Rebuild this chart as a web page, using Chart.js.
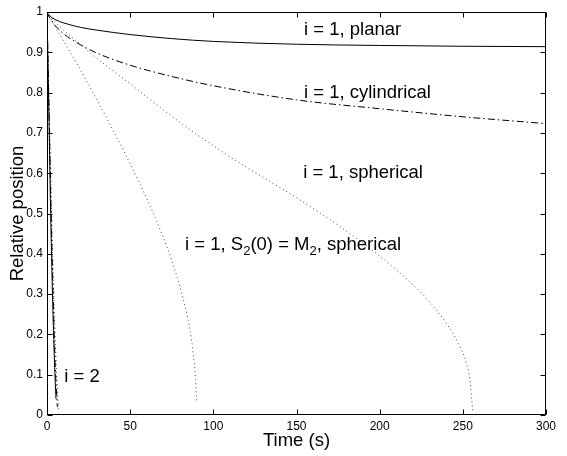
<!DOCTYPE html>
<html><head><meta charset="utf-8">
<script src="https://cdn.jsdelivr.net/npm/chart.js@4.4.1/dist/chart.umd.min.js"></script>
<style>html,body{margin:0;padding:0;background:#fff;}#wrap{width:567px;height:456px;}</style>
</head><body><div id="wrap"><canvas id="c" width="567" height="456"></canvas></div>
<script>
// ---- data ----
const xTicks = [0, 50, 100, 150, 200, 250, 300];
const xTickLabels = ['0', '50', '100', '150', '200', '250', '300'];
const yTicks = [0, 0.1, 0.2, 0.3, 0.4, 0.5, 0.6, 0.7, 0.8, 0.9, 1];
const yTickLabels = ['0', '0.1', '0.2', '0.3', '0.4', '0.5', '0.6', '0.7', '0.8', '0.9', '1'];

const planarT = [0, 1, 2, 5, 10, 20, 30, 50, 75, 100, 150, 200, 250, 300];
const planarV = [1, 0.993, 0.989, 0.981, 0.973, 0.962, 0.955, 0.944, 0.934, 0.927, 0.920, 0.917, 0.915, 0.914];

const cylT = [0, 1, 2, 5, 10, 20, 30, 50, 75, 100, 150, 200, 250, 300];
const cylV = [1, 0.99, 0.983, 0.966, 0.946, 0.919, 0.898, 0.868, 0.84, 0.817, 0.782, 0.76, 0.74, 0.723];

const sphT = [0, 2, 5, 10, 20, 30, 40, 53, 70, 87, 116, 152, 176, 192, 210, 228, 240, 247, 252, 254.5, 255.5, 256];
const sphV = [1, 0.99, 0.975, 0.955, 0.92, 0.885, 0.853, 0.812, 0.757, 0.705, 0.625, 0.534, 0.468, 0.42, 0.36, 0.29, 0.228, 0.18, 0.13, 0.08, 0.03, 0.008];

const sphM2T = [0, 5, 10, 20, 29, 39, 47, 56, 65, 72, 78, 83, 86, 88, 89.3, 90];
const sphM2V = [1, 0.963, 0.928, 0.857, 0.79, 0.712, 0.648, 0.572, 0.49, 0.418, 0.345, 0.27, 0.21, 0.15, 0.09, 0.03];

const i2PlanarT = [0, 1, 2.2, 3.3, 4.5, 5.4];
const i2PlanarV = [1, 0.78, 0.5, 0.3, 0.13, 0.04];
const i2CylT = [0, 1, 2.4, 3.6, 4.9, 6.2];
const i2CylV = [1, 0.8, 0.52, 0.31, 0.13, 0.02];
const i2SphT = [0, 1.1, 2.6, 3.9, 5.4, 7];
const i2SphV = [1, 0.8, 0.53, 0.32, 0.14, 0.01];

const labelTexts = [
  [{t: 'i = 1, planar'}],
  [{t: 'i = 1, cylindrical'}],
  [{t: 'i = 1, spherical'}],
  [{t: 'i = 1, S'}, {t: '2', sub: true}, {t: '(0) = M'}, {t: '2', sub: true}, {t: ', spherical'}],
  [{t: 'i = 2'}]
];
const labelX = [154.5, 154.5, 154, 83, 10.4];
const labelY = [0.955, 0.80, 0.60, 0.422, 0.095];

// ---- chart ----
const FONT = "'Liberation Sans', Arial, Helvetica, sans-serif";
const pts = (t, v) => t.map((x, i) => ({x: x, y: v[i]}));
const solid = [], dashdot = [7, 3, 1.5, 3], dotted = [1, 3];
function ds(t, v, dash, color) {
  return {data: pts(t, v), showLine: true, borderColor: color, borderWidth: 1, borderDash: dash,
          pointRadius: 0, fill: false, tension: 0.3, cubicInterpolationMode: 'monotone'};
}

const framePlugin = {
  id: 'frame',
  afterDatasetsDraw(chart) {
    const {ctx, chartArea: a, scales: {x, y}} = chart;
    ctx.save();
    ctx.strokeStyle = '#000';
    ctx.lineWidth = 1;
    const L = Math.round(a.left) + 0.5, R = Math.round(a.right) - 0.5;
    const T = Math.round(a.top) + 0.5, B = Math.round(a.bottom) - 0.5;
    ctx.strokeRect(L, T, R - L, B - T);
    ctx.beginPath();
    const tl = 5;
    xTicks.forEach(v => {
      const px = Math.round(x.getPixelForValue(v)) + 0.5;
      ctx.moveTo(px, B); ctx.lineTo(px, B - tl);
      ctx.moveTo(px, T); ctx.lineTo(px, T + tl);
    });
    yTicks.forEach(v => {
      const py = Math.round(y.getPixelForValue(v)) + 0.5;
      ctx.moveTo(L, py); ctx.lineTo(L + tl, py);
      ctx.moveTo(R, py); ctx.lineTo(R - tl, py);
    });
    ctx.stroke();

    ctx.fillStyle = '#000';
    ctx.textBaseline = 'middle';
    ctx.textAlign = 'left';
    const fs = 18.5;
    labelTexts.forEach((segs, k) => {
      let px = x.getPixelForValue(labelX[k]);
      const py = y.getPixelForValue(labelY[k]);
      segs.forEach(s => {
        if (s.sub) {
          ctx.font = Math.round(fs * 0.72) + 'px ' + FONT;
          ctx.fillText(s.t, px, py + 6);
        } else {
          ctx.font = fs + 'px ' + FONT;
          ctx.fillText(s.t, px, py);
        }
        px += ctx.measureText(s.t).width;
      });
    });
    ctx.restore();
  }
};

new Chart(document.getElementById('c'), {
  type: 'scatter',
  data: {
    datasets: [
      ds(planarT, planarV, solid, '#000'),
      ds(cylT, cylV, dashdot, '#000'),
      ds(sphT, sphV, dotted, '#444'),
      ds(sphM2T, sphM2V, dotted, '#444'),
      ds(i2PlanarT, i2PlanarV, solid, '#000'),
      ds(i2CylT, i2CylV, dashdot, '#000'),
      ds(i2SphT, i2SphV, dotted, '#444')
    ]
  },
  options: {
    responsive: false,
    devicePixelRatio: 1,
    animation: false,
    layout: {padding: {left: 0, top: 12, right: 21, bottom: 0}},
    plugins: {legend: {display: false}, tooltip: {enabled: false}},
    scales: {
      x: {
        type: 'linear', min: 0, max: 300,
        afterBuildTicks: s => { s.ticks = xTicks.map(v => ({value: v})); },
        afterFit: s => { s.height = 41; },
        grid: {display: false, drawTicks: false},
        border: {display: false},
        ticks: {padding: 4, color: '#000', font: {family: FONT, size: 12},
                maxRotation: 0, autoSkip: false,
                callback: (v, i) => xTickLabels[i]},
        title: {display: true, text: 'Time (s)', color: '#000',
                font: {family: FONT, size: 18.5}, padding: {top: 0, bottom: 4}}
      },
      y: {
        type: 'linear', min: 0, max: 1,
        afterBuildTicks: s => { s.ticks = yTicks.map(v => ({value: v})); },
        afterFit: s => { s.width = 47; },
        grid: {display: false, drawTicks: false},
        border: {display: false},
        ticks: {padding: 4, color: '#000', font: {family: FONT, size: 12},
                autoSkip: false, callback: (v, i) => yTickLabels[i]},
        title: {display: true, text: 'Relative position', color: '#000',
                font: {family: FONT, size: 18.5}, padding: {top: 7, bottom: 0}}
      }
    }
  },
  plugins: [framePlugin]
});
</script>
</body></html>
